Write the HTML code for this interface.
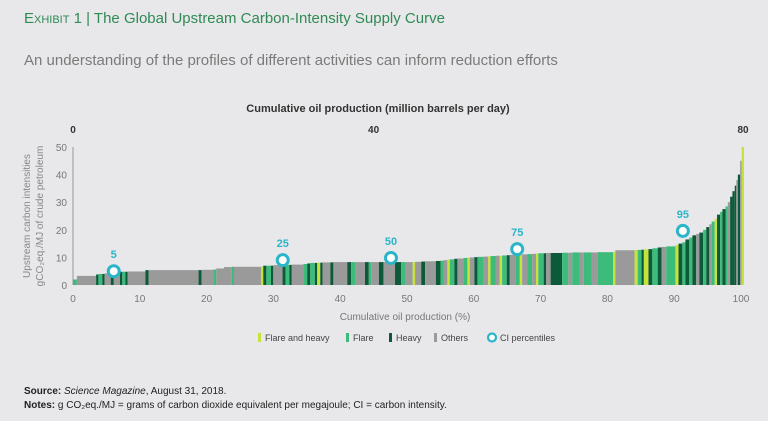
<!DOCTYPE html>
<html><head><meta charset="utf-8"><style>
body{margin:0;width:768px;height:421px;background:#e8e8ea;font-family:"Liberation Sans",sans-serif;overflow:hidden;position:relative}
.t{position:absolute;white-space:nowrap}
</style></head><body>
<div class="t" style="left:24px;top:10px;font-size:15px;color:#2f8a55"><span style="font-variant:small-caps">Exhibit 1</span> | The Global Upstream Carbon-Intensity Supply Curve</div>
<div class="t" style="left:24px;top:52px;font-size:15px;color:#7a7a7a">An understanding of the profiles of different activities can inform reduction efforts</div>
<svg id="c" width="768" height="421" style="position:absolute;left:0;top:0"></svg>
<div class="t" style="left:24px;top:386px;font-size:10px;color:#222"><b>Source:</b> <i>Science Magazine</i>, August 31, 2018.</div>
<div class="t" style="left:24px;top:400px;font-size:10px;color:#222"><b>Notes:</b> g CO₂eq./MJ = grams of carbon dioxide equivalent per megajoule; CI = carbon intensity.</div>
<script>
const widths=[0.5,2.5,0.3,0.5,0.3,0.8,0.4,0.8,0.3,0.4,0.3,2.3,0.4,6.5,0.4,1.5,0.4,1,1,0.3,3.5,0.3,0.4,0.6,0.3,1.2,0.4,0.5,0.3,1.5,0.5,0.4,0.6,0.3,0.4,0.3,1,0.4,1.8,0.5,0.6,1.2,0.5,0.3,1,0.6,1.5,0.8,0.5,1,0.3,0.8,0.5,1.4,0.6,0.4,0.5,0.3,0.6,0.4,0.8,0.5,0.3,0.6,0.4,0.8,0.6,0.3,0.7,0.5,0.3,0.6,0.4,0.8,0.5,0.3,0.7,0.6,0.5,0.3,0.7,0.3,0.6,1.5,0.8,0.5,1,0.5,1,0.8,2,0.3,2.5,0.4,0.5,0.3,0.6,0.5,0.7,0.5,0.6,1.2,0.4,0.5,0.4,0.5,0.4,0.5,0.4,0.5,0.4,0.4,0.3,0.4,0.3,0.4,0.3,0.4,0.3,0.3,0.3,0.3,0.2,0.2,0.3,0.2,0.3];
const values=[2,3.3,3.8,4,4,4.2,4.5,4.7,4.8,4.8,4.8,4.9,5.4,5.4,5.4,5.5,5.6,6,6.5,6.6,6.6,6.7,7,7,7,7.2,7.3,7.3,7.3,7.4,7.6,7.8,8,8,8.1,8.1,8.2,8.2,8.3,8.3,8.3,8.3,8.3,8.3,8.3,8.3,8.3,8.3,8.3,8.3,8.3,8.4,8.5,8.6,8.7,8.8,9,9.2,9.3,9.5,9.6,9.8,9.9,10,10.1,10.2,10.3,10.4,10.5,10.6,10.6,10.7,10.8,10.9,11,11,11.1,11.2,11.3,11.4,11.5,11.5,11.6,11.6,11.7,11.7,11.8,11.8,11.8,11.8,11.9,12,12.6,12.7,12.7,12.8,12.9,13,13.3,13.6,13.8,14,14.5,15,15.5,16.5,17.2,18,18.5,19,20,21,22,23,24,25.5,26.5,27.5,28.5,30,32,34,36,38,40,45,50];
const cats=[1,0,2,1,2,0,2,0,2,1,2,0,2,0,2,0,1,0,0,1,0,3,2,1,2,0,2,1,2,0,1,2,1,2,3,2,0,2,0,2,1,0,2,1,0,2,0,2,1,0,3,0,2,0,2,1,0,3,1,2,0,1,3,0,2,1,0,3,1,0,3,1,2,0,1,3,0,1,0,3,1,2,0,2,1,0,1,0,1,0,1,3,0,3,1,2,3,2,1,2,0,1,3,2,1,2,1,2,0,2,1,2,0,1,3,2,1,2,1,0,2,2,2,0,2,0,3];
const pctLabels=["5","25","50","75","95"];
const pctX=[6.1,31.4,47.6,66.5,91.3];
const pctY=[5,9,9.8,13,19.6];
const yTicks=[0,10,20,30,40,50];
const xTicks=[0,10,20,30,40,50,60,70,80,90,100];
const topTicks=["0","40","80"];
const topPos=[0,45,100.3];
const colors=["#9a9a9a","#3dbb7a","#0d5a3b","#c8e23c"];
const svg=document.getElementById('c');const NS="http://www.w3.org/2000/svg";
function el(t,a,p){const e=document.createElementNS(NS,t);for(const k in a)e.setAttribute(k,a[k]);(p||svg).appendChild(e);return e;}
const X0=73,X1=741,Y0=285,Y1=147;
const xs=v=>X0+(X1-X0)*v/100, ys=v=>Y0-(Y0-Y1)*v/50;
const total=widths.reduce((a,b)=>a+b,0);
const xb=v=>X0+(744-X0)*v/total;
let t;
let a=el('line',{x1:X0,y1:Y1,x2:X0,y2:Y0,stroke:'#999','stroke-width':1});

yTicks.forEach(v=>{t=el('text',{x:X0-6,y:ys(v)+4,'text-anchor':'end','font-size':10,fill:'#777'});t.textContent=v;
});
xTicks.forEach(v=>{t=el('text',{x:xs(v),y:302,'text-anchor':'middle','font-size':10,fill:'#777'});t.textContent=v;
});
topTicks.forEach((s,i)=>{t=el('text',{x:xs(topPos[i]),y:133,'text-anchor':'middle','font-size':10,'font-weight':'bold',fill:'#333'});t.textContent=s;
});
t=el('text',{x:378,y:112,'text-anchor':'middle','font-size':11,'font-weight':'bold',fill:'#333'});t.textContent='Cumulative oil production (million barrels per day)';

t=el('text',{x:405,y:320,'text-anchor':'middle','font-size':10,fill:'#777'});t.textContent='Cumulative oil production (%)';

t=el('text',{transform:'translate(30,216) rotate(-90)','text-anchor':'middle','font-size':10,fill:'#888'});t.textContent='Upstream carbon intensities';

t=el('text',{transform:'translate(43,216) rotate(-90)','text-anchor':'middle','font-size':10,fill:'#888'});t.textContent='gCO₂eq./MJ of crude petroleum';

let cum=0;
widths.forEach((w,i)=>{const x=xb(cum),x2=xb(cum+w);cum+=w;
const r=el('rect',{x:x,y:ys(values[i]),width:Math.max(0.8,x2-x),height:Y0-ys(values[i]),fill:colors[cats[i]]});
});
pctX.forEach((v,i)=>{const c=el('circle',{cx:xs(v),cy:ys(pctY[i]),r:5.5,fill:'#fff',stroke:'#2bb5c8','stroke-width':3});

t=el('text',{x:xs(v),y:ys(pctY[i])-13,'text-anchor':'middle','font-size':11,'font-weight':'bold',fill:'#2bb5c8'});t.textContent=pctLabels[i];
});
const leg=[["Flare and heavy",3,258],["Flare",1,346],["Heavy",2,389],["Others",0,434]];
leg.forEach(l=>{const r=el('rect',{x:l[2],y:333,width:3,height:9,fill:colors[l[1]]});

t=el('text',{x:l[2]+7,y:341,'font-size':9,fill:'#444'});t.textContent=l[0];
});
const lc=el('circle',{cx:492,cy:337.5,r:4,fill:'#fff',stroke:'#2bb5c8','stroke-width':2.2});

t=el('text',{x:500,y:341,'font-size':9,fill:'#444'});t.textContent='CI percentiles';

</script>
</body></html>
